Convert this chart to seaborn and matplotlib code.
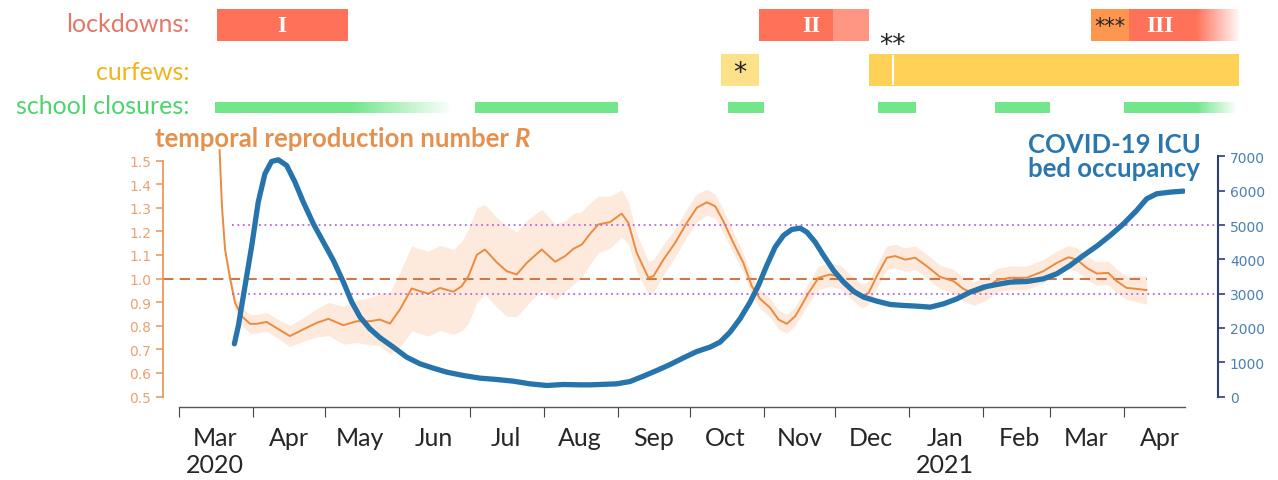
import numpy as np
import pandas as pd
import matplotlib
matplotlib.use("Agg")
import matplotlib.pyplot as plt
import matplotlib.dates as mdates
import matplotlib.ticker as mticker
import seaborn as sns

sns.set_style("white")
plt.rcParams["font.family"] = ["Lato", "DejaVu Sans"]

# ---- data (days counted from 2020-03-01) ----
start = pd.Timestamp("2020-03-01")

r_days = [17, 18, 19.3, 21.4, 23.5, 26.3, 29.8, 32.6, 36.7, 40.9, 46.5, 52, 57.7, 62.6,
          68.9, 74.5, 80, 84.2, 88.4, 92.6, 97.5, 101, 104.5, 109.4, 115, 118.5, 121.3,
          124.8, 128.2, 133.1, 137.3, 141.5, 145.7, 152, 157.6, 161.8, 165.3, 168.8, 172.3,
          175.7, 180.6, 185.5, 188.3, 191.8, 196.7, 198.8, 203, 207.9, 212.8, 217, 221.2,
          224.7, 228.1, 232.3, 236.5, 240, 243.5, 247.7, 251.2, 254.7, 258.2, 260.3, 263.8,
          268, 272.8, 277, 281.2, 286.1, 289, 292.4, 296.6, 300.1, 304.3, 308.5, 313.4,
          318.9, 324.5, 328.7, 332.9, 337.8, 342.7, 348.3, 355.3, 362.2, 367.8, 372.7,
          376.2, 380.4, 384.6, 389.4, 392.9, 397.1, 401.3, 405.5]
r_vals = [1.545, 1.306, 1.123, 1.0, 0.897, 0.84, 0.808, 0.808, 0.816, 0.79, 0.756, 0.784,
          0.812, 0.829, 0.802, 0.819, 0.819, 0.826, 0.809, 0.869, 0.958, 0.946, 0.936, 0.96,
          0.944, 0.968, 1.01, 1.10, 1.123, 1.069, 1.031, 1.017, 1.066, 1.123, 1.071, 1.095,
          1.126, 1.144, 1.19, 1.229, 1.239, 1.275, 1.236, 1.109, 1.003, 1.01, 1.08, 1.151,
          1.236, 1.30, 1.323, 1.306, 1.243, 1.151, 1.066, 0.968, 0.914, 0.876, 0.826, 0.808,
          0.84, 0.876, 0.939, 1.003, 1.017, 1.007, 0.968, 0.925, 0.939, 1.01, 1.088, 1.095,
          1.08, 1.088, 1.052, 1.007, 0.989, 0.956, 0.936, 0.956, 0.993, 1.003, 1.003, 1.031,
          1.066, 1.09, 1.08, 1.045, 1.021, 1.024, 0.989, 0.96, 0.956, 0.951]
r_half = [0.0, 0.005, 0.01, 0.02, 0.03, 0.04, 0.04, 0.04, 0.04, 0.04, 0.045, 0.05, 0.06,
          0.07, 0.08, 0.09, 0.10, 0.11, 0.13, 0.16, 0.18, 0.18, 0.18, 0.18, 0.18, 0.19, 0.2,
          0.2, 0.19, 0.19, 0.19, 0.18, 0.18, 0.17, 0.16, 0.15, 0.15, 0.14, 0.13, 0.12, 0.11,
          0.10, 0.09, 0.08, 0.07, 0.07, 0.065, 0.06, 0.06, 0.06, 0.055, 0.05, 0.05, 0.045,
          0.04, 0.04, 0.04, 0.04, 0.04, 0.04, 0.04, 0.04, 0.045, 0.05, 0.05, 0.05, 0.05, 0.05,
          0.05, 0.05, 0.05, 0.05, 0.05, 0.05, 0.05, 0.05, 0.05, 0.05, 0.05, 0.05, 0.05, 0.05,
          0.05, 0.05, 0.05, 0.05, 0.05, 0.05, 0.05, 0.05, 0.05, 0.05, 0.055, 0.06]

icu_days = [23.2, 24.9, 27.7, 30.5, 33.2, 36, 38.8, 41.6, 45.1, 48.6, 52.1, 56.3, 60.5,
            64.7, 68.9, 72.4, 75.9, 80, 84.2, 89.8, 95.4, 101, 106.6, 112.2, 119.2, 126.2,
            133.1, 140.1, 147.1, 154.1, 161.1, 168.1, 172.3, 183.4, 189, 194.6, 200.2, 205.8,
            211.4, 217, 222.5, 226.7, 230.9, 235.1, 239.3, 242.8, 246.3, 249.8, 253.3, 256.8,
            260.3, 263.1, 266.6, 270.1, 274.3, 278.5, 282.7, 286.9, 292.4, 298, 303.6, 309.2,
            314.8, 320.4, 326, 331.5, 337.1, 342.7, 348.3, 355.3, 362.2, 367.8, 373.4, 379,
            384.6, 390.2, 395.8, 401.3, 405.5, 409.7, 415.3, 420.9]
icu_vals = [1536, 2070, 3237, 4403, 5667, 6493, 6853, 6901, 6736, 6250, 5667, 5035, 4500,
            3966, 3334, 2751, 2313, 1973, 1715, 1439, 1147, 953, 826, 710, 612, 535, 496, 447,
            369, 321, 350, 340, 340, 369, 437, 593, 758, 933, 1128, 1312, 1439, 1584, 1876,
            2265, 2751, 3237, 3820, 4355, 4695, 4870, 4909, 4792, 4500, 4112, 3674, 3334, 3062,
            2897, 2780, 2683, 2654, 2634, 2605, 2702, 2848, 3042, 3188, 3266, 3334, 3353, 3431,
            3577, 3820, 4112, 4384, 4695, 5035, 5424, 5764, 5910, 5958, 5988]

icu_thresholds = [3000, 5000]

lockdown_solid = [("2020-03-17", "2020-05-11"), ("2020-10-30", "2020-11-30"), ("2021-04-03", "2021-05-01")]
lockdown_light = [("2020-11-30", "2020-12-15")]
lockdown_local = [("2021-03-18", "2021-04-03")]
lockdown_fade = [("2021-05-01", "2021-05-19")]
lockdown_labels = ["I", "II", "III"]
lockdown_label_at = ["2020-04-13", "2020-11-21", "2021-04-16"]

curfew_first = [("2020-10-14", "2020-10-30")]
curfew_main = [("2020-12-15", "2021-05-19")]
curfew_break = ["2020-12-25"]

school_solid = [("2020-03-16", "2020-05-12"), ("2020-07-03", "2020-09-01"),
                ("2020-10-17", "2020-11-01"), ("2020-12-19", "2021-01-04"),
                ("2021-02-06", "2021-03-01"), ("2021-04-01", "2021-05-01")]
school_fade = [("2020-05-12", "2020-06-22"), ("2021-05-01", "2021-05-17")]

# ---- helpers ----
W, H = 1278, 481
PX_PER_DAY = 2.3864
x0 = mdates.date2num(start)


def dn(s):
    return mdates.date2num(pd.Timestamp(s))


r_df = pd.DataFrame({
    "date": start + pd.to_timedelta(r_days, unit="D"),
    "R": r_vals,
    "half": r_half,
})
icu_df = pd.DataFrame({
    "date": start + pd.to_timedelta(icu_days, unit="D"),
    "icu": icu_vals,
})

fig = plt.figure(figsize=(W / 100, H / 100), dpi=100)

# ---- main chart ----
ax = fig.add_axes([179 / W, (H - 397.5) / H, 1006 / W, 247.5 / H])
ax2 = ax.twinx()

ax.fill_between(r_df["date"], r_df["R"] - r_df["half"], r_df["R"] + r_df["half"],
                color="#fdeadd", lw=0, zorder=1)
ax.hlines(1.0, x0 - 6.7, x0 + 405.5, colors="#c97a4c", linestyles=(0, (5, 3)),
          lw=1.5, clip_on=False, zorder=2)
sns.lineplot(data=r_df, x="date", y="R", ax=ax, color="#ec8a3d", lw=1.4, zorder=3,
             solid_joinstyle="round")

ax2.hlines(icu_thresholds, x0 + 22.2, x0 + 435.4, colors="#b46ad8",
           linestyles=(0, (1, 2)), lw=1.3, clip_on=False, zorder=1)
sns.lineplot(data=icu_df, x="date", y="icu", ax=ax2, color="#2674ab", lw=3.8, zorder=4,
             solid_joinstyle="round", solid_capstyle="round")

ax.set_xlim(x0, x0 + 1006 / PX_PER_DAY)
ax.set_ylim(0.5, 0.5 + 247.5 / 236)
ax2.set_ylim(0, 247.5 / 34.3 * 1000)

# x axis: ticks at month starts, labels at mid-month
ax.xaxis.set_major_locator(mdates.MonthLocator())
ax.xaxis.set_major_formatter(mticker.NullFormatter())
ax.xaxis.set_minor_locator(mdates.MonthLocator(bymonthday=16))


def month_label(x, pos):
    d = mdates.num2date(x)
    s = d.strftime("%b")
    if (d.year == 2020 and d.month == 3) or (d.year == 2021 and d.month == 1):
        s += "\n" + str(d.year)
    return s


ax.xaxis.set_minor_formatter(mticker.FuncFormatter(month_label))
ax.tick_params(axis="x", which="major", direction="out", length=7, width=0.8,
               color="#444444", bottom=True)
ax.tick_params(axis="x", which="minor", length=0, pad=14, labelsize=18)
for lbl in ax.xaxis.get_minorticklabels():
    lbl.set_linespacing(1.45)
    lbl.set_verticalalignment("top")

ax.spines["bottom"].set_position(("outward", 7.2))
ax.spines["bottom"].set_color("#555555")
ax.spines["bottom"].set_linewidth(1.0)
ax.spines["top"].set_visible(False)
ax.spines["right"].set_visible(False)
ax.spines["left"].set_position(("outward", 11.5))
ax.spines["left"].set_bounds(0.5, 1.5)
ax.spines["left"].set_color("#eb9a5c")
ax.spines["left"].set_linewidth(1.3)
ax.set_yticks(np.arange(0.5, 1.51, 0.1))
ax.yaxis.set_major_formatter(mticker.FormatStrFormatter("%.1f"))
ax.tick_params(axis="y", direction="out", length=5, width=1.2, color="#eb9a5c",
               labelcolor="#e8a274", labelsize=10, left=True)
for lbl in ax.get_yticklabels():
    lbl.set_family(["DejaVu Sans"])

for s in ["left", "top", "bottom"]:
    ax2.spines[s].set_visible(False)
ax2.spines["right"].set_position(("outward", 23.8))
ax2.spines["right"].set_bounds(0, 7000)
ax2.spines["right"].set_color("#2e3d82")
ax2.spines["right"].set_linewidth(1.5)
ax2.set_yticks(np.arange(0, 7001, 1000))
ax2.tick_params(axis="y", direction="out", length=5, width=1.2, color="#2e3d82",
                labelcolor="#4b7fb5", labelsize=10, right=True)
for lbl in ax2.get_yticklabels():
    lbl.set_family(["DejaVu Sans"])

for a in (ax, ax2):
    a.set_xlabel("")
    a.set_ylabel("")
    a.grid(False)
    a.patch.set_visible(False)

# axis titles
t = fig.text(155 / W, (H - 139) / H, "temporal reproduction number ", ha="left",
             va="center", fontsize=18.5, color="#e6904e", fontweight="bold")
ax.annotate("R", xy=(1, 0), xycoords=t, ha="left", va="bottom", fontsize=18.5,
            color="#e6904e", fontweight="bold", fontstyle="italic",
            annotation_clip=False)
fig.text(1114 / W, (H - 157) / H, "COVID-19 ICU\nbed occupancy", ha="center",
         va="center", fontsize=18.5, color="#2b77ad", fontweight="bold",
         linespacing=1.0, multialignment="center")

# ---- measures timeline ----
axt = fig.add_axes([179 / W, (H - 120) / H, (W - 179) / W, 120 / H])
axt.set_axis_off()

ROWS = {"lock": (10, 42), "curfew": (55, 87), "school": (103, 114)}
RED, RED_LIGHT, ORANGE = "#ff7158", "#ff9582", "#ff9650"
GOLD, GOLD_LIGHT, GREEN = "#ffd257", "#fde08a", "#72e68a"


def bar(span, row, color):
    top, bot = ROWS[row]
    axt.barh((top + bot) / 2, dn(span[1]) - dn(span[0]), left=dn(span[0]),
             height=bot - top, color=color, lw=0)


def fade(span, row, color):
    top, bot = ROWS[row]
    rgba = np.zeros((1, 200, 4))
    rgba[..., :3] = matplotlib.colors.to_rgb(color)
    rgba[..., 3] = np.linspace(1, 0.05, 200)
    axt.imshow(rgba, extent=(dn(span[0]), dn(span[1]), bot, top), aspect="auto",
               interpolation="bilinear")


for sp in lockdown_solid:
    bar(sp, "lock", RED)
for sp in lockdown_light:
    bar(sp, "lock", RED_LIGHT)
for sp in lockdown_local:
    bar(sp, "lock", ORANGE)
    axt.text((dn(sp[0]) + dn(sp[1])) / 2, 27, "***", ha="center", va="center",
             fontsize=15, color="#222222", family=["DejaVu Sans"])
for sp in lockdown_fade:
    fade(sp, "lock", RED)
for lab, at in zip(lockdown_labels, lockdown_label_at):
    axt.text(dn(at), 26, lab, ha="center", va="center", fontsize=17, color="white",
             family=["Liberation Serif"], fontweight="bold")

for sp in curfew_first:
    bar(sp, "curfew", GOLD_LIGHT)
    axt.text((dn(sp[0]) + dn(sp[1])) / 2, 74, "*", ha="center", va="center",
             fontsize=19, color="#222222", family=["DejaVu Sans"])
for sp in curfew_main:
    bar(sp, "curfew", GOLD)
for d in curfew_break:
    axt.vlines(dn(d), 56, 86, colors="white", lw=1.5)
    axt.text(dn(d), 46, "**", ha="center", va="center", fontsize=19,
             color="#222222", family=["DejaVu Sans"])

for sp in school_solid:
    bar(sp, "school", GREEN)
for sp in school_fade:
    fade(sp, "school", GREEN)

axt.set_xlim(x0, x0 + (W - 179) / PX_PER_DAY)
axt.set_ylim(120, 0)

fig.text(190 / W, (H - 25) / H, "lockdowns:", ha="right", va="center",
         fontsize=18, color="#e5766a")
fig.text(190 / W, (H - 72) / H, "curfews:", ha="right", va="center",
         fontsize=18, color="#f0b51c")
fig.text(190 / W, (H - 107) / H, "school closures:", ha="right", va="center",
         fontsize=18, color="#4fd36e")

fig.savefig("out.png", dpi=100)
plt.close(fig)
